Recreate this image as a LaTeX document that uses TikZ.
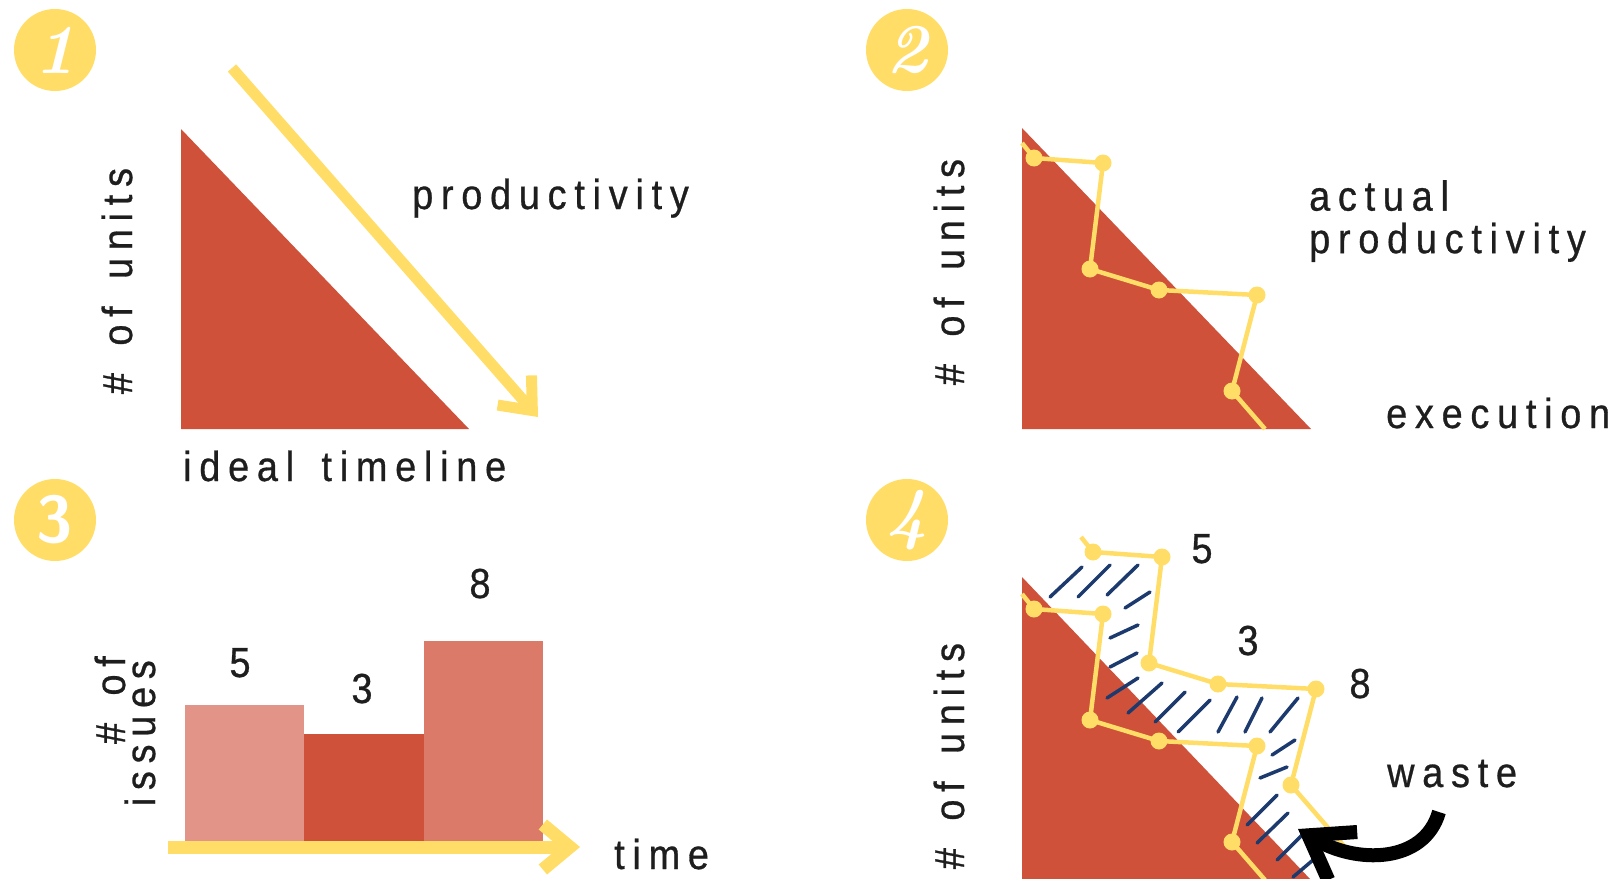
\documentclass[tikz,border=0pt]{standalone}
\usepackage{fontspec}
\usepackage{tikz}
\usetikzlibrary{arrows.meta, positioning}
\newfontfamily\labelfont{Liberation Sans}[FakeStretch=0.9, LetterSpace=18.5, WordSpace=1.5, FakeBold=0.7]
\definecolor{idealred}{RGB}{208, 81, 58}
\definecolor{issuelight}{RGB}{226, 148, 136}
\definecolor{issuemid}{RGB}{220, 122, 106}
\definecolor{sunyellow}{RGB}{255, 221, 102}
\definecolor{hatchblue}{RGB}{28, 58, 110}
\definecolor{inkgray}{RGB}{30, 30, 30}

\begin{document}
\begin{tikzpicture}[x=1pt, y=-1pt,
    lbl/.style={text=inkgray, inner sep=0pt, font=\labelfont\fontsize{42}{42.5}\selectfont},
    numdisc/.style={circle, fill=sunyellow, minimum size=82pt, inner sep=0pt, text=white},
    actual/.style={sunyellow, line width=4.5pt, line join=round},
    hatch/.style={hatchblue, line width=3.5pt, line cap=round},
    trend/.style={sunyellow, line width=11pt, -{Straight Barb[length=27pt, width=45pt]}}]
    \useasboundingbox (0,0) rectangle (1616,878);

    % Step numbers
    \node[numdisc, font=\bfseries\itshape\fontsize{70}{70}\selectfont] (num1) at (55,50) {1};
    \node[numdisc, font=\bfseries\itshape\fontsize{70}{70}\selectfont] (num2) at (907,50) {2};
    \node[numdisc, font=\sffamily\bfseries\fontsize{66}{66}\selectfont] (num3) at (55,520) {3};
    \node[numdisc, font=\bfseries\itshape\fontsize{70}{70}\selectfont] (num4) at (907,520) {4};

    % 1: ideal timeline
    \fill[idealred] (181,129) -- (181,429) -- (469,429) -- cycle;
    \coordinate (prodstart) at (232,68);
    \coordinate (prodend) at (538,417);
    \draw[trend] (prodstart) -- (prodend);
    \node[lbl, anchor=base west] (prodlabel) at (412,209) {productivity};
    \node[lbl, anchor=base west] (ideallabel) at (183,481) {ideal timeline};
    \node[lbl, rotate=90, anchor=base] (units1) at (132,281) {\# of units};

    % 2: actual execution
    \fill[idealred] (1022,128) -- (1022,429) -- (1311,429) -- cycle;
    \draw[actual] (1022,143) -- (1034,158) -- (1103,163) -- (1090,269) -- (1159,290)
        -- (1257,295) -- (1232,391) -- (1265,429);
    \fill[sunyellow] (1034,158) circle (8.5) (1103,163) circle (8.5) (1090,269) circle (8.5)
        (1159,290) circle (8.5) (1257,295) circle (8.5) (1232,391) circle (8.5);
    \node[lbl, anchor=north west, align=left] (actuallabel) at (1309,180) {actual\\productivity};
    \node[lbl, anchor=base west] (execlabel) at (1386,428) {execution};
    \node[lbl, rotate=90, anchor=base] (units2) at (964,272) {\# of units};

    % 3: issues over time
    \fill[issuelight] (185,705) rectangle (304,841);
    \fill[idealred] (304,734) rectangle (424,841);
    \fill[issuemid] (424,641) rectangle (543,841);
    \node[lbl, anchor=base] (five) at (240,677) {5};
    \node[lbl, anchor=base] (three) at (362,703) {3};
    \node[lbl, anchor=base] (eight) at (480,598) {8};
    \coordinate (timestart) at (168,847);
    \coordinate (timeend) at (580,847);
    \draw[trend, line width=13pt] (timestart) -- (timeend);
    \node[lbl, anchor=base west] (timelabel) at (614,869) {time};
    \node[lbl, rotate=90, anchor=base east] (issues1) at (125,656) {\# of};
    \node[lbl, rotate=90, anchor=base east] (issues2) at (155,660) {issues};

    % 4: waste
    \fill[idealred] (1022,577) -- (1022,880) -- (1311,880) -- cycle;
    \draw[hatch] (1050,597) -- (1082,567) (1078,597) -- (1110,565) (1107,595) -- (1138,565)
        (1125,608) -- (1150,592) (1110,638) -- (1138,625) (1110,667) -- (1137,653)
        (1107,698) -- (1138,678) (1128,713) -- (1162,683) (1155,722) -- (1185,692)
        (1178,732) -- (1210,700) (1218,732) -- (1237,697) (1245,732) -- (1262,698)
        (1270,732) -- (1298,698) (1272,755) -- (1295,740) (1260,778) -- (1287,767)
        (1247,825) -- (1277,795) (1257,843) -- (1288,813) (1277,860) -- (1307,830)
        (1293,877) -- (1313,860);
    \draw[actual] (1022,594) -- (1034,609) -- (1103,614) -- (1090,720) -- (1159,741)
        -- (1257,746) -- (1232,842) -- (1265,880);
    \fill[sunyellow] (1034,609) circle (8.5) (1103,614) circle (8.5) (1090,720) circle (8.5)
        (1159,741) circle (8.5) (1257,746) circle (8.5) (1232,842) circle (8.5);
    \draw[actual] (1081,537) -- (1093,552) -- (1162,557) -- (1149,663) -- (1218,684)
        -- (1316,689) -- (1291,785) -- (1350,853);
    \fill[sunyellow] (1093,552) circle (8.5) (1162,557) circle (8.5) (1149,663) circle (8.5)
        (1218,684) circle (8.5) (1316,689) circle (8.5) (1291,785) circle (8.5);
    \node[lbl, anchor=base] (wfive) at (1202,563) {5};
    \node[lbl, anchor=base] (wthree) at (1248,655) {3};
    \node[lbl, anchor=base] (weight) at (1360,698) {8};
    \node[lbl, anchor=base west] (wastelabel) at (1387,787) {waste};
    \node[lbl, rotate=90, anchor=base] (units4) at (964,756) {\# of units};
    \coordinate (wastetail) at (1439,812);
    \coordinate (wastetip) at (1298,829);
    \draw[black, line width=14pt, -{Straight Barb[length=40pt, width=56pt]}]
        (wastetail) .. controls (1424,864) and (1356,864) .. (wastetip);
\end{tikzpicture}
\end{document}
